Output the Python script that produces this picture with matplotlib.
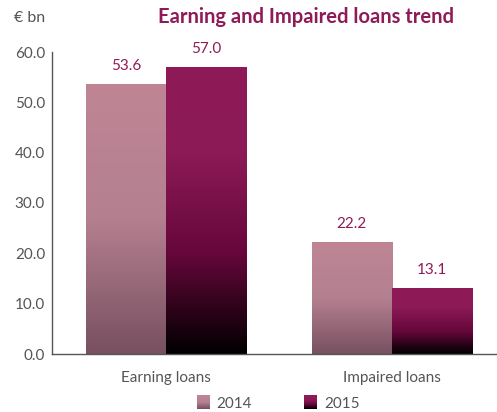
import numpy as np
import matplotlib
matplotlib.use("Agg")
import matplotlib.pyplot as plt
from matplotlib.colors import LinearSegmentedColormap
from matplotlib.patches import Rectangle
from matplotlib.legend_handler import HandlerBase

categories = ["Earning loans", "Impaired loans"]
years = ["2014", "2015"]
values_2014 = [53.6, 22.2]
values_2015 = [57.0, 13.1]
yticks = [0, 10, 20, 30, 40, 50, 60]

magenta = "#8e1b58"
grey_text = "#555555"

# bottom -> top colours for each series
cmap_2014 = LinearSegmentedColormap.from_list(
    "c2014", [(0, "#785060"), (0.5, "#b48090"), (1, "#bf8595")])
cmap_2015 = LinearSegmentedColormap.from_list(
    "c2015", [(0, "#000000"), (0.35, "#66073a"), (0.7, "#8c1a56"), (1, magenta)])

plt.rcParams['font.family'] = ['Lato', 'DejaVu Sans']

fig = plt.figure(figsize=(4.97, 4.12), dpi=100)
ax = fig.add_axes([52 / 497, 58 / 412, 445 / 497, 302 / 412])

x = np.arange(len(categories))
w = 0.354
grad = np.linspace(0, 1, 256).reshape(-1, 1)


def gradient_bars(xs, vals, cmap):
    bars = ax.bar(xs, vals, w, color="none", edgecolor="none")
    for b in bars:
        x0, y0 = b.get_x(), b.get_y()
        im = ax.imshow(grad, cmap=cmap, origin="lower", aspect="auto",
                       extent=[x0, x0 + b.get_width(), y0, y0 + b.get_height()],
                       zorder=2)
        im.set_clip_path(b)
    for b, v in zip(bars, vals):
        ax.annotate(f"{v:.1f}", (b.get_x() + b.get_width() / 2, b.get_height()),
                    xytext=(0, 8), textcoords="offset points", ha="center",
                    va="bottom", color=magenta, fontsize=11)


gradient_bars(x - w / 2, values_2014, cmap_2014)
gradient_bars(x + w / 2, values_2015, cmap_2015)

ax.set_xlim(-0.504, 1.465)
ax.set_ylim(0, 60)
ax.set_yticks(yticks)
ax.set_yticklabels([f"{t:.1f}" for t in yticks])
ax.set_xticks(x)
ax.set_xticklabels(categories)
ax.tick_params(length=0, labelsize=11, colors=grey_text)
ax.tick_params(axis="y", pad=5)
ax.tick_params(axis="x", pad=12)
for s in ["top", "right"]:
    ax.spines[s].set_visible(False)
ax.spines["left"].set_color("#555555")
ax.spines["bottom"].set_color("#555555")
ax.spines["left"].set_linewidth(1)
ax.spines["bottom"].set_linewidth(1)

fig.text(14 / 497, 1 - 18 / 412, "€ bn", fontsize=11.5, color=grey_text,
         ha="left", va="center")
fig.text(306 / 497, 1 - 17 / 412, "Earning and Impaired loans trend",
         fontsize=14.5, fontweight="bold", color=magenta, ha="center", va="center")


class GradientHandler(HandlerBase):
    def __init__(self, cmap):
        super().__init__()
        self.cmap = cmap

    def create_artists(self, legend, orig_handle, xdescent, ydescent,
                       width, height, fontsize, trans):
        n = 20
        arts = []
        for i in range(n):
            r = Rectangle((-xdescent, -ydescent + height * i / n), width, height / n + 0.3,
                          facecolor=self.cmap(i / (n - 1)), edgecolor="none",
                          transform=trans)
            arts.append(r)
        return arts


h14 = Rectangle((0, 0), 1, 1)
h15 = Rectangle((0, 0), 1, 1)
leg = fig.legend([h14, h15], years, loc="center",
                 bbox_to_anchor=(278 / 497, 1 - 403 / 412), ncol=2, frameon=False,
                 fontsize=11, handlelength=0.85, handleheight=1.0,
                 handletextpad=0.45, columnspacing=3.4,
                 handler_map={h14: GradientHandler(cmap_2014),
                              h15: GradientHandler(cmap_2015)})
for t in leg.get_texts():
    t.set_color(grey_text)

fig.savefig("out.png", dpi=100)
